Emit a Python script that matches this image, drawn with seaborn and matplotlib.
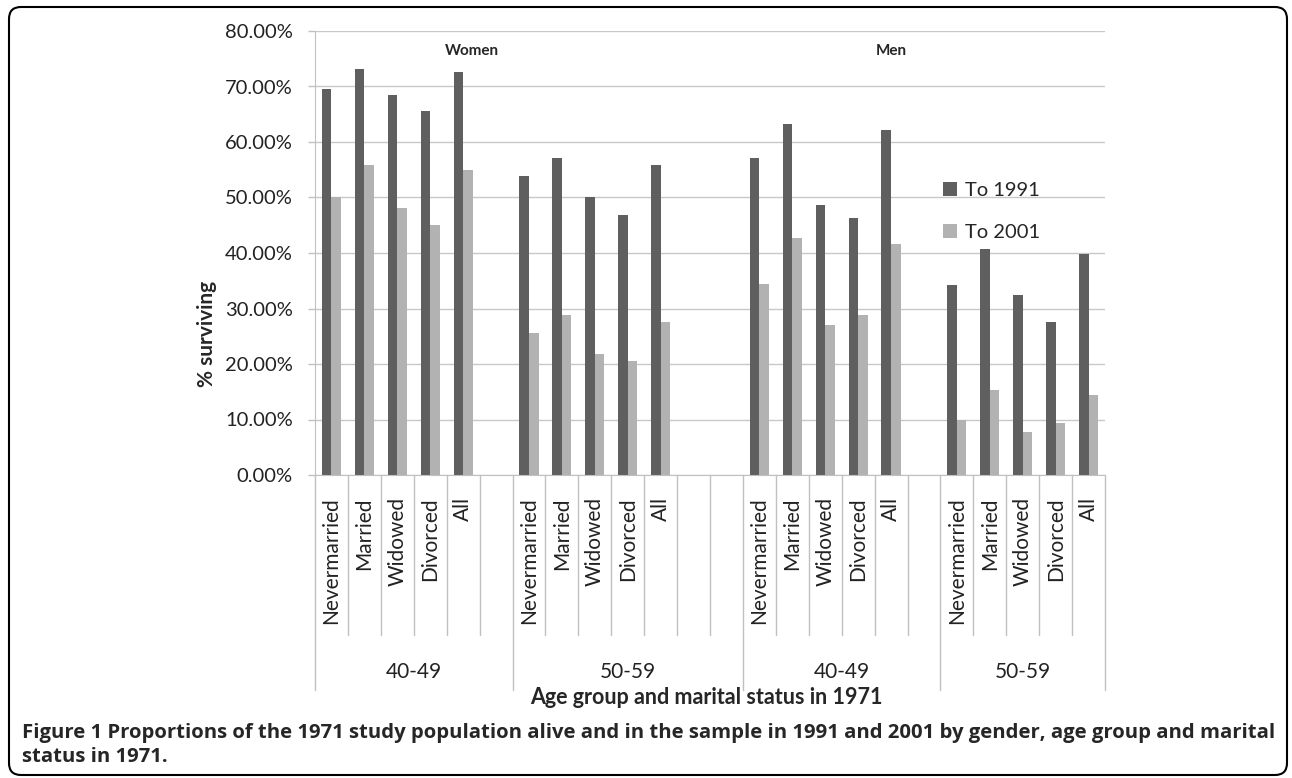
import pandas as pd
import matplotlib.pyplot as plt
import seaborn as sns
from matplotlib.patches import FancyBboxPatch
from matplotlib.ticker import FuncFormatter
import matplotlib.transforms as mtransforms

# data (percent surviving)
statuses = ["Nevermarried", "Married", "Widowed", "Divorced", "All"]
group_labels = ["40-49", "50-59", "40-49", "50-59"]
gender_labels = ["Women", "Men"]
series_names = ["To 1991", "To 2001"]

women_4049_1991 = [69.6, 73.2, 68.5, 65.6, 72.7]
women_4049_2001 = [50.0, 55.9, 48.1, 45.1, 54.9]
women_5059_1991 = [53.8, 57.1, 50.1, 46.9, 55.9]
women_5059_2001 = [25.6, 28.8, 21.8, 20.6, 27.5]
men_4049_1991 = [57.2, 63.2, 48.6, 46.3, 62.2]
men_4049_2001 = [34.4, 42.7, 27.1, 28.8, 41.6]
men_5059_1991 = [34.2, 40.8, 32.5, 27.6, 39.8]
men_5059_2001 = [10.0, 15.3, 7.7, 9.4, 14.5]

# blank rows after each block in the source sheet
blank_slots = [1, 2, 1, 0]

groups = [
    (women_4049_1991, women_4049_2001),
    (women_5059_1991, women_5059_2001),
    (men_4049_1991, men_4049_2001),
    (men_5059_1991, men_5059_2001),
]

# build long table + slot order
rows = []
order = []
slot_labels = []
group_bounds = [0]
for g, (v91, v01) in enumerate(groups):
    for s, name in enumerate(statuses):
        key = f"g{g}_{name}"
        order.append(key)
        slot_labels.append(name)
        rows.append((key, series_names[0], v91[s]))
        rows.append((key, series_names[1], v01[s]))
    for b in range(blank_slots[g]):
        order.append(f"g{g}_blank{b}")
        slot_labels.append("")
    group_bounds.append(len(order))
df = pd.DataFrame(rows, columns=["slot", "series", "value"])

sns.set_style("white")
plt.rcParams["font.family"] = ["Lato", "DejaVu Sans"]

fig = plt.figure(figsize=(12.92, 7.78), dpi=100)
ax = fig.add_axes([315 / 1292, 1 - 475 / 778, 790 / 1292, 444 / 778])

sns.barplot(
    data=df, x="slot", y="value", hue="series", order=order,
    hue_order=series_names, palette=["#5f5f5f", "#b2b2b2"],
    width=0.58, linewidth=0, errorbar=None, ax=ax
)

ax.set_ylim(0, 80)
ax.set_yticks(range(0, 81, 10))
ax.yaxis.set_major_formatter(FuncFormatter(lambda v, p: f"{v:.2f}%"))
ax.tick_params(axis="y", length=5, width=1, color="#c0c0c0", pad=11,
               labelsize=14.5, labelcolor="#222222", left=True)
ax.grid(axis="y", color="#c8c8c8", lw=1)
ax.set_axisbelow(True)
for sp in ["top", "right"]:
    ax.spines[sp].set_visible(False)
ax.spines["left"].set_color("#c0c0c0")
ax.spines["bottom"].set_color("#c0c0c0")

ax.set_xticks(range(len(order)))
ax.set_xticklabels(slot_labels, rotation=90, fontsize=15, color="#222222")
ax.tick_params(axis="x", length=0, pad=16)
ax.set_xlim(-0.5, len(order) - 0.5)
ax.set_xlabel("")
ax.set_ylabel("% surviving", fontsize=15, fontweight="bold")
ax.yaxis.set_label_coords(-0.124, 0.3176)

# category separators and group separators below the axis
trans = mtransforms.blended_transform_factory(ax.transData, ax.transAxes)
for i in range(1, len(order)):
    if i in group_bounds:
        continue
    ax.plot([i - 0.5, i - 0.5], [0, -0.3604], transform=trans,
            color="#c0c0c0", lw=1, clip_on=False)
for b in group_bounds:
    ax.plot([b - 0.5, b - 0.5], [0, -0.4842], transform=trans,
            color="#c0c0c0", lw=1, clip_on=False)
for g, lab in enumerate(group_labels):
    mid = (group_bounds[g] + group_bounds[g + 1]) / 2 - 0.5
    ax.text(mid, -0.4437, lab, transform=trans, ha="center", va="center",
            fontsize=15, color="#222222")

ax.text(0.495, -0.502, "Age group and marital status in 1971", transform=ax.transAxes,
        ha="center", va="center", fontsize=15.5, fontweight="bold")

# gender labels
ax.text(4.26, 76.4, gender_labels[0], ha="center", va="center",
        fontsize=11, fontweight="bold")
ax.text(17.0, 76.4, gender_labels[1], ha="center", va="center",
        fontsize=11, fontweight="bold")

# legend
leg = ax.legend(loc="upper left", bbox_to_anchor=(935 / 1292, 1 - 174 / 778),
                bbox_transform=fig.transFigure, frameon=False, fontsize=14.5,
                handlelength=0.7, handleheight=0.7, handletextpad=0.4,
                labelspacing=1.25, borderaxespad=0)

# caption
fig.text(22 / 1292, 1 - 733 / 778,
         "Figure 1 Proportions of the 1971 study population alive and in the sample in 1991 and 2001 by gender, age group and marital",
         ha="left", va="center", fontsize=14.6, fontweight="bold", family="Open Sans")
fig.text(22 / 1292, 1 - 757 / 778, "status in 1971.",
         ha="left", va="center", fontsize=14.6, fontweight="bold", family="Open Sans")

# rounded frame around the whole figure
frame = FancyBboxPatch((0.09, 0.03), 12.78, 7.68, boxstyle="round,pad=0,rounding_size=0.12",
                       transform=fig.dpi_scale_trans, fill=False, ec="black", lw=1.5)
fig.patches.append(frame)

fig.savefig("out.png", dpi=100)
